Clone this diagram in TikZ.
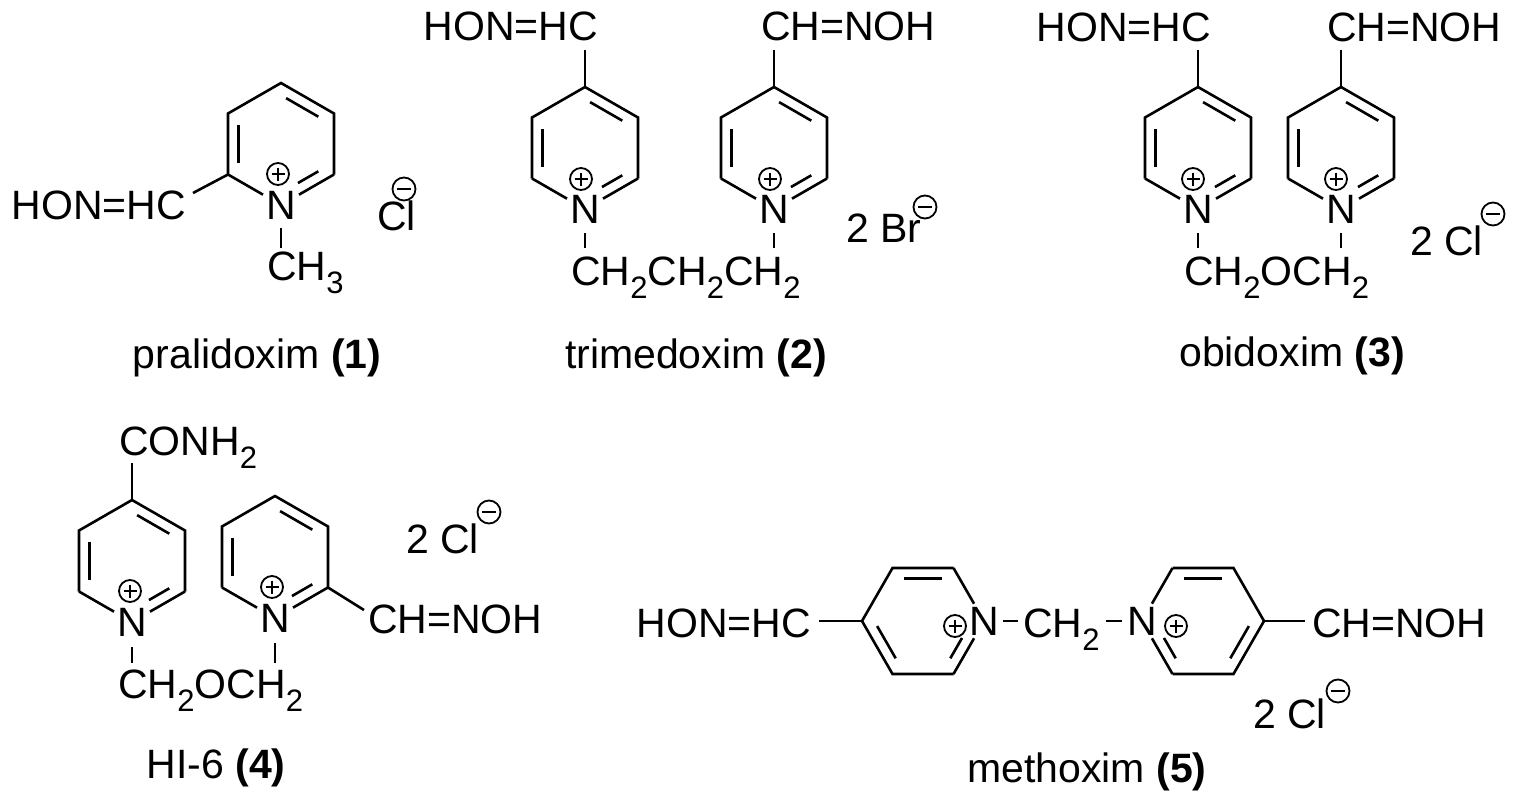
\documentclass[tikz,border=0pt]{standalone}
\usepackage{fontspec}
\setmainfont{Liberation Sans}
\usetikzlibrary{calc}
\newcommand\sbs[1]{\raisebox{-0.32em}{\fontsize{31}{32}\selectfont #1}}
\newcommand\ringP[3]{% pointy top ring with N at bottom
  \coordinate (#1c) at (#2,#3);
  \coordinate (#1t) at (#2,#3-61);
  \coordinate (#1ur) at (#2+53,#3-30.5);
  \coordinate (#1lr) at (#2+53,#3+30.5);
  \coordinate (#1ll) at (#2-53,#3+30.5);
  \coordinate (#1ul) at (#2-53,#3-30.5);
  \node[atom] (#1N) at (#2,#3+61) {N};
  \draw[bond] (#1ll)--(#1ul)--(#1t)--(#1ur)--(#1lr);
  \draw[bond] (#1lr)--(#1N);
  \draw[bond] (#1ll)--(#1N);
}
\newcommand\ib[5]{%
  \coordinate (ibp) at ($(#1)!0.2!(#3)$);
  \coordinate (ibq) at ($(#2)!0.2!(#3)$);
  \draw[bond] ($(ibp)!#4!(ibq)$) -- ($(ibp)!#5!(ibq)$);
}
\begin{document}
\begin{tikzpicture}[x=1pt,y=-1pt,
  bond/.style={line width=2.6pt},
  atom/.style={inner sep=3pt,font=\fontsize{41}{48}\selectfont},
  txt/.style={inner sep=0pt,font=\fontsize{41}{48}\selectfont},
  lbl/.style={inner sep=0pt,font=\fontsize{41}{48}\selectfont},
  plus/.pic={\draw[line width=1.8pt] (0,0) circle[radius=11pt]; \draw[line width=1.8pt] (-6.5,0)--(6.5,0) (0,-6.5)--(0,6.5);},
  minus/.pic={\draw[line width=1.8pt] (0,0) circle[radius=11.5pt]; \draw[line width=1.8pt] (-7,0)--(7,0);}]
\useasboundingbox (0,0) rectangle (1519,800);
\fill[white] (0,0) rectangle (1519,800);

% ---------- 1 pralidoxim
\ringP{a}{281}{144}
\ib{at}{aur}{ac}{0.12}{0.88}
\ib{aul}{all}{ac}{0.12}{0.88}
\ib{alr}{aN}{ac}{0.12}{0.6}
\pic at (278,174) {plus};
\node[txt,anchor=base east] (a1) at (186,219) {HON=HC};
\coordinate (a1b) at (193,193);
\draw[bond] (all)--(a1b);
\coordinate (am1) at (281,228); \coordinate (am2) at (281,248);
\draw[bond] (am1)--(am2);
\node[txt,anchor=base west] (ame) at (267,280) {CH\sbs{3}};
\node[txt,anchor=base west] (acl) at (377,230) {Cl};
\pic at (404,189) {minus};
\node[lbl,anchor=base] (al) at (257,368) {pralidoxim \textbf{(1)}};

% ---------- 2 trimedoxim
\ringP{b}{585}{148}
\ringP{c}{774}{148}
\foreach \r in {b,c}{
  \ib{\r t}{\r ur}{\r c}{0.12}{0.88}
  \ib{\r ul}{\r ll}{\r c}{0.12}{0.88}
  \ib{\r lr}{\r N}{\r c}{0.12}{0.6}
}
\pic at (581,179) {plus};
\pic at (770,179) {plus};
\coordinate (bs) at (585,50); \draw[bond] (bt)--(bs);
\coordinate (cs) at (774,50); \draw[bond] (ct)--(cs);
\node[txt,anchor=base east] (b1) at (598,41) {HON=HC};
\node[txt,anchor=base west] (c1) at (761,41) {CH=NOH};
\coordinate (bn1) at (585,233); \coordinate (bn2) at (585,248); \draw[bond] (bn1)--(bn2);
\coordinate (cn1) at (774,233); \coordinate (cn2) at (774,248); \draw[bond] (cn1)--(cn2);
\node[txt,anchor=base west] (bch) at (571,285) {CH\sbs{2}CH\sbs{2}CH\sbs{2}};
\node[txt,anchor=base west] (bbr) at (846,242) {2 Br};
\pic at (925,207) {minus};
\node[lbl,anchor=base] (bl) at (696,368) {trimedoxim \textbf{(2)}};

% ---------- 3 obidoxim
\ringP{d}{1198}{148}
\ringP{e}{1341}{148}
\foreach \r in {d,e}{
  \ib{\r t}{\r ur}{\r c}{0.12}{0.88}
  \ib{\r ul}{\r ll}{\r c}{0.12}{0.88}
  \ib{\r lr}{\r N}{\r c}{0.12}{0.6}
}
\pic at (1193,179) {plus};
\pic at (1336,179) {plus};
\coordinate (ds) at (1198,50); \draw[bond] (dt)--(ds);
\coordinate (es) at (1341,50); \draw[bond] (et)--(es);
\node[txt,anchor=base east] (d1) at (1211,42) {HON=HC};
\node[txt,anchor=base west] (e1) at (1327,42) {CH=NOH};
\coordinate (dn1) at (1198,233); \coordinate (dn2) at (1198,248); \draw[bond] (dn1)--(dn2);
\coordinate (en1) at (1341,233); \coordinate (en2) at (1341,248); \draw[bond] (en1)--(en2);
\node[txt,anchor=base west] (dch) at (1184,285) {CH\sbs{2}OCH\sbs{2}};
\node[txt,anchor=base west] (dcl) at (1410,255) {2 Cl};
\pic at (1493,214) {minus};
\node[lbl,anchor=base] (dl) at (1292,366) {obidoxim \textbf{(3)}};

% ---------- 4 HI-6
\ringP{f}{132}{561}
\ringP{g}{275}{557}
\foreach \r in {f,g}{
  \ib{\r t}{\r ur}{\r c}{0.12}{0.88}
  \ib{\r ul}{\r ll}{\r c}{0.12}{0.88}
  \ib{\r lr}{\r N}{\r c}{0.12}{0.6}
}
\pic at (130,591) {plus};
\pic at (272,587) {plus};
\coordinate (fs) at (132,463); \draw[bond] (ft)--(fs);
\node[txt,anchor=base west] (f1) at (119,455) {CONH\sbs{2}};
\coordinate (gs) at (364,610); \draw[bond] (glr)--(gs);
\node[txt,anchor=base west] (g1) at (368,633) {CH=NOH};
\coordinate (fn1) at (132,647); \coordinate (fn2) at (132,663); \draw[bond] (fn1)--(fn2);
\coordinate (gn1) at (275,643); \coordinate (gn2) at (275,663); \draw[bond] (gn1)--(gn2);
\node[txt,anchor=base west] (fch) at (118,698) {CH\sbs{2}OCH\sbs{2}};
\node[txt,anchor=base west] (fcl) at (406,553) {2 Cl};
\pic at (489,512) {minus};
\node[lbl,anchor=base] (fl) at (216,778) {HI-6 \textbf{(4)}};

% ---------- 5 methoxim
\coordinate (hc) at (923,621);
\coordinate (hl) at (862,621);
\coordinate (htl) at (892.5,568);
\coordinate (htr) at (953.5,568);
\coordinate (hbr) at (953.5,674);
\coordinate (hbl) at (892.5,674);
\node[atom] (hN) at (984,621) {N};
\draw[bond] (htr)--(htl)--(hl)--(hbl)--(hbr);
\draw[bond] (htr)--(hN); \draw[bond] (hbr)--(hN);
\ib{htl}{htr}{hc}{0.12}{0.88}
\ib{hl}{hbl}{hc}{0.12}{0.88}
\ib{hN}{hbr}{hc}{0.4}{0.88}
\pic at (955,626) {plus};
\coordinate (ic) at (1203,621);
\coordinate (ir) at (1264,621);
\coordinate (itl) at (1172.5,568);
\coordinate (itr) at (1233.5,568);
\coordinate (ibr) at (1233.5,674);
\coordinate (ibl) at (1172.5,674);
\node[atom] (iN) at (1142,621) {N};
\draw[bond] (itl)--(itr)--(ir)--(ibr)--(ibl);
\draw[bond] (itl)--(iN); \draw[bond] (ibl)--(iN);
\ib{itl}{itr}{ic}{0.12}{0.88}
\ib{ir}{ibr}{ic}{0.12}{0.88}
\ib{iN}{ibl}{ic}{0.4}{0.88}
\pic at (1176,626) {plus};
\node[txt,anchor=base east] (h1) at (811,637) {HON=HC};
\coordinate (hs) at (819,621); \draw[bond] (hs)--(hl);
\coordinate (hm1) at (1003,621); \coordinate (hm2) at (1018,621); \draw[bond] (hm1)--(hm2);
\node[txt,anchor=base west] (hch) at (1023,637) {CH\sbs{2}};
\coordinate (im1) at (1106,621); \coordinate (im2) at (1122,621); \draw[bond] (im1)--(im2);
\coordinate (is) at (1305,621); \draw[bond] (ir)--(is);
\node[txt,anchor=base west] (i1) at (1312,637) {CH=NOH};
\node[txt,anchor=base west] (icl) at (1253,728) {2 Cl};
\pic at (1338,691) {minus};
\node[lbl,anchor=base] (hl2) at (1087,782) {methoxim \textbf{(5)}};
\end{tikzpicture}
\end{document}
